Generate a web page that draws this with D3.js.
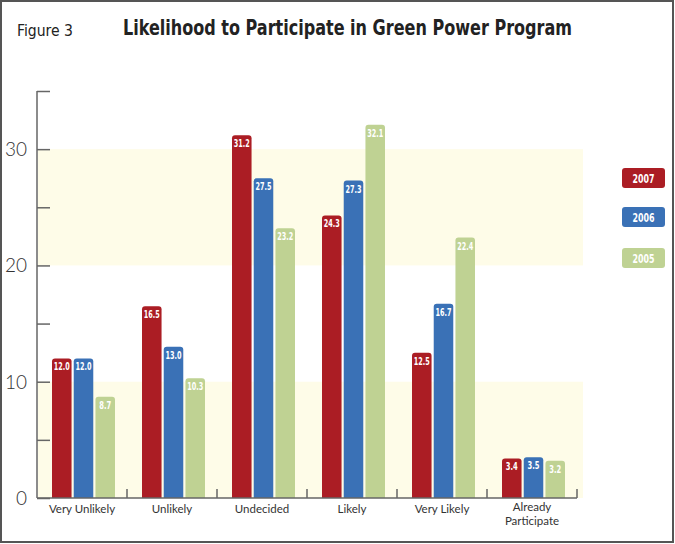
<!DOCTYPE html>
<html><head><meta charset="utf-8">
<script src="https://cdn.jsdelivr.net/npm/d3@7"></script>
<style>body{margin:0;background:#fff}svg{display:block}</style>
</head><body><svg id="c" width="675" height="544"></svg>
<script>
const categories = ["Very Unlikely","Unlikely","Undecided","Likely","Very Likely","Already Participate"];
const years = ["2007","2006","2005"];
const values2007 = [12.0,16.5,31.2,24.3,12.5,3.4];
const values2006 = [12.0,13.0,27.5,27.3,16.7,3.5];
const values2005 = [8.7,10.3,23.2,32.1,22.4,3.2];
const yTicks = [0,10,20,30];
const colors = ["#ab1d24","#3a71b6","#bfd293"];

const series = [values2007,values2006,values2005];
const cond = "'DejaVu Sans Condensed', 'DejaVu Sans', sans-serif";
const svg = d3.select("#c");
svg.append("rect").attr("x",1).attr("y",1).attr("width",672).attr("height",541).attr("fill","#fff").attr("stroke","#555").attr("stroke-width",2);

const y = d3.scaleLinear().domain([0,35]).range([498,91]);
const x0 = d3.scaleBand().domain(categories).range([37,577]).paddingInner(0).paddingOuter(0);
const x1 = d3.scaleBand().domain(years).range([15,78]).paddingInner(0.1).paddingOuter(0);

// bands
[[0,10],[20,30]].forEach(b=>{
  svg.append("rect").attr("x",38).attr("width",545).attr("y",y(b[1])).attr("height",y(b[0])-y(b[1])).attr("fill","#fefce8");
});

// bars
categories.forEach((c,i)=>{
  series.forEach((s,j)=>{
    const xx = x0(c)+x1(years[j]);
    const w = x1.bandwidth();
    const top = y(s[i]);
    const r = 3;
    svg.append("path").attr("d",`M${xx},${y(0)} V${top+r} Q${xx},${top} ${xx+r},${top} H${xx+w-r} Q${xx+w},${top} ${xx+w},${top+r} V${y(0)} Z`).attr("fill",colors[j]);
    const lbl = s[i].toFixed(1);
    svg.append("text").attr("x",xx+w/2).attr("y",top+12).attr("text-anchor","middle")
      .attr("font-family",cond).attr("font-weight","bold").attr("font-size",10)
      .attr("textLength", lbl.length===4?16:12).attr("lengthAdjust","spacingAndGlyphs")
      .attr("fill","#fff").text(lbl);
  });
});

// y axis
const yAxis = d3.axisRight(y).tickValues(d3.range(0,36,5)).tickSize(13).tickFormat("");
const gy = svg.append("g").attr("transform","translate(37,0)").call(yAxis);
gy.select(".domain").remove();
gy.selectAll("line").attr("stroke","#666").attr("stroke-width",1.5);
svg.append("line").attr("x1",37).attr("x2",37).attr("y1",91).attr("y2",498).attr("stroke","#666").attr("stroke-width",1.5);
yTicks.forEach(t=>{
  svg.append("text").attr("x",27).attr("y",y(t)+7).attr("text-anchor","end")
    .attr("font-family","Lato, sans-serif").attr("font-weight",300).attr("font-size",19).attr("fill","#333").text(t);
});

// x axis
svg.append("line").attr("x1",37).attr("x2",577).attr("y1",498).attr("y2",498).attr("stroke","#666").attr("stroke-width",1.5);
categories.forEach((c,i)=>{
  svg.append("line").attr("x1",x0(c)+x0.bandwidth()).attr("x2",x0(c)+x0.bandwidth()).attr("y1",498).attr("y2",489).attr("stroke","#666").attr("stroke-width",1.5);
  const words = c==="Already Participate" ? ["Already","Participate"] : [c];
  const t = svg.append("text").attr("text-anchor","middle").attr("font-family","Lato, sans-serif").attr("font-size",11.5).attr("fill","#333");
  words.forEach((w,k)=>t.append("tspan").attr("x",x0(c)+x0.bandwidth()/2).attr("y",words.length>1?511+k*14:513).text(w));
});

// legend
years.forEach((yr,j)=>{
  const ly = [168,207,248][j];
  svg.append("rect").attr("x",622).attr("y",ly).attr("width",43).attr("height",20).attr("rx",3).attr("fill",colors[j]);
  svg.append("text").attr("x",643.5).attr("y",ly+14.5).attr("text-anchor","middle")
    .attr("font-family",cond).attr("font-weight","bold").attr("font-size",12)
    .attr("textLength",22).attr("lengthAdjust","spacingAndGlyphs").attr("fill","#fff").text(yr);
});

// titles
svg.append("text").attr("x",17).attr("y",36).attr("font-family",cond).attr("font-size",15)
  .attr("textLength",56).attr("lengthAdjust","spacingAndGlyphs").attr("fill","#222").text("Figure 3");
svg.append("text").attr("x",123).attr("y",35).attr("font-family",cond).attr("font-weight","bold").attr("font-size",21)
  .attr("textLength",449).attr("lengthAdjust","spacingAndGlyphs").attr("fill","#222").text("Likelihood to Participate in Green Power Program");
</script></body></html>
